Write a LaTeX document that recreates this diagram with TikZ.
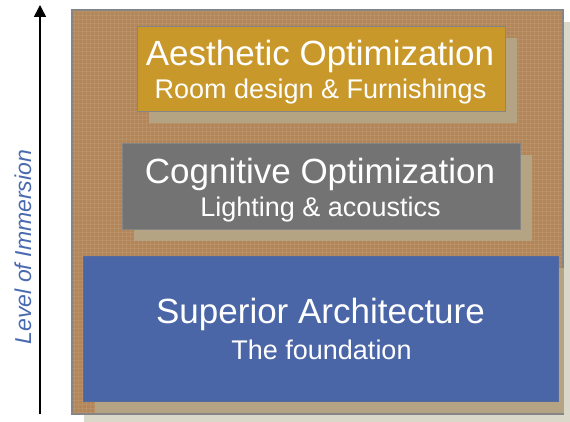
\documentclass[tikz,border=0pt]{standalone}
\usepackage{fontspec}
\setmainfont{Liberation Sans}
\usetikzlibrary{arrows.meta}
\definecolor{bgbrown}{HTML}{B3865A}
\definecolor{bgshadow}{HTML}{DAD8C9}
\definecolor{boxshadow}{HTML}{B5A483}
\definecolor{goldbox}{HTML}{C9982A}
\definecolor{graybox}{HTML}{737373}
\definecolor{bluebox}{HTML}{4A66A6}
\definecolor{labelblue}{HTML}{4A6AB0}
\definecolor{edgegray}{HTML}{858585}
\tikzset{
  levelbox/.style={draw=edgegray, line width=0.9pt, inner sep=0pt, minimum width=#1},
  shadowbox/.style={fill=boxshadow, draw=none, inner sep=0pt},
  titletext/.style={text=white, anchor=base, inner sep=0pt, font=\fontsize{35}{40}\selectfont},
  subtext/.style={text=white, anchor=base, inner sep=0pt, font=\fontsize{27}{32}\selectfont},
}
\begin{document}
\begin{tikzpicture}[x=1pt,y=-1pt]
\useasboundingbox (0,0) rectangle (570,422);
% background shadow and background
\fill[bgshadow] (84,22) rectangle (570,422);
\node[draw=edgegray, line width=1.2pt, fill=bgbrown, inner sep=0pt, minimum width=491pt, minimum height=404pt] (bg) at (317.5,212) {};
% fine woven texture
\begin{scope}
\clip (73,11) rectangle (562,413);
\foreach \t in {74,78,...,562} {
  \draw[white, opacity=0.07, line width=1pt] (\t,11) -- (\t,413);
}
\foreach \t in {12,16,...,413} {
  \draw[white, opacity=0.07, line width=1pt] (73,\t) -- (562,\t);
}
\end{scope}
% shadows of the boxes
\node[shadowbox, minimum width=368pt, minimum height=85pt] (aesshadow) at (333,80.5) {};
\node[shadowbox, minimum width=398pt, minimum height=86pt] (cogshadow) at (333,198) {};
\node[shadowbox, minimum width=469pt, minimum height=145pt] (supshadow) at (329.5,340.5) {};
% boxes
\node[levelbox=368pt, fill=goldbox, minimum height=85pt] (aesbox) at (321,68.5) {};
\node[levelbox=398pt, fill=graybox, minimum height=86pt] (cogbox) at (321,186) {};
\node[levelbox=475pt, fill=bluebox, draw=bluebox!80!gray, minimum height=145pt] (supbox) at (320.5,328.5) {};
% texts
\node[titletext] (aestitle) at (320,66) {Aesthetic Optimization};
\node[subtext] (aessub) at (320.5,99) {Room design \& Furnishings};
\node[titletext] (cogtitle) at (320,183.5) {Cognitive Optimization};
\node[subtext] (cogsub) at (320.5,217) {Lighting \& acoustics};
\node[titletext] (suptitle) at (320.5,323.5) {Superior Architecture};
\node[subtext] (supsub) at (321.5,359.5) {The foundation};
% axis arrow
\coordinate (abot) at (40,414);
\coordinate (atop) at (40,5);
\draw[line width=1.6pt, -{Triangle[width=12pt,length=12pt]}] (abot) -- (atop);
\node[rotate=90, text=labelblue, inner sep=0pt, font=\fontsize{23}{27}\selectfont\itshape] (axislabel) at (23,247) {Level of Immersion};
\end{tikzpicture}
\end{document}
